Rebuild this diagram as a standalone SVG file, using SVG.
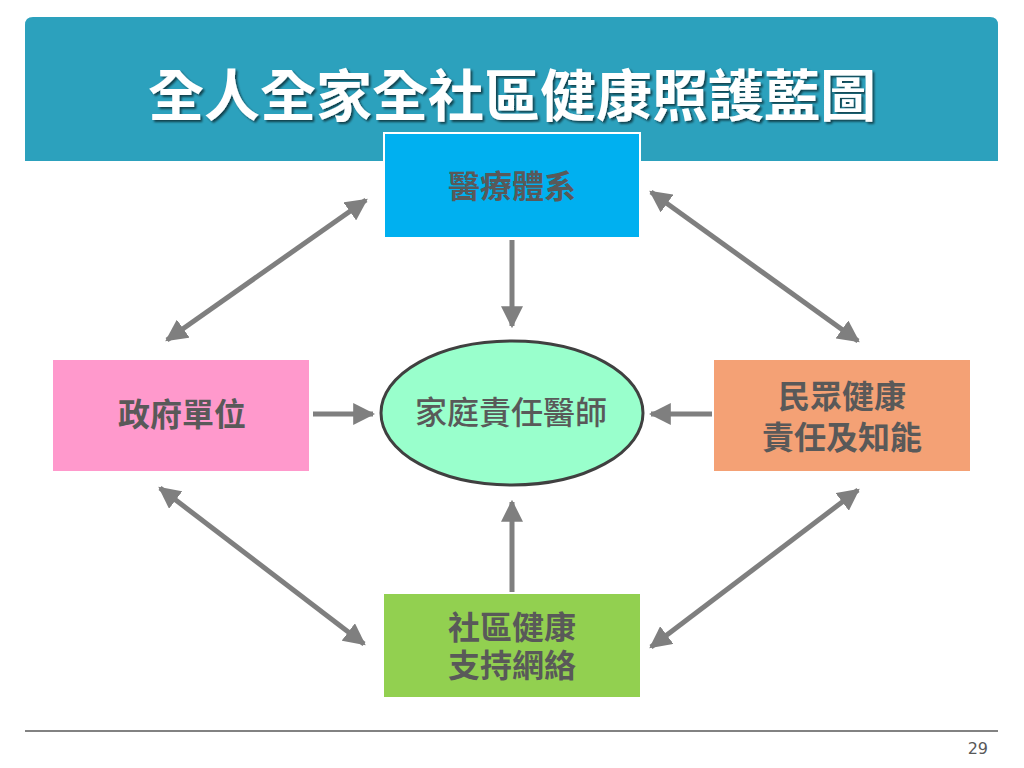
<svg xmlns="http://www.w3.org/2000/svg" width="1024" height="768" viewBox="0 0 1024 768">
<defs>
<marker id="ah" viewBox="0 0 10 10" refX="9" refY="5" markerWidth="4.4" markerHeight="4.4" orient="auto-start-reverse" markerUnits="strokeWidth">
<path d="M0,0 L10,5 L0,10 z" fill="#7f7f7f"/>
</marker>
<filter id="sh" x="-5%" y="-20%" width="110%" height="140%">
<feDropShadow dx="2" dy="2" stdDeviation="1" flood-color="#000" flood-opacity="0.6"/>
</filter>
</defs>
<style>
.lbl{font-family:"Noto Sans CJK TC","Noto Sans CJK SC",sans-serif;font-size:32px;font-weight:bold;fill:#595959;text-anchor:middle}
.con{stroke:#7f7f7f;stroke-width:5;fill:none;marker-end:url(#ah)}
.dbl{marker-start:url(#ah)}
</style>
<rect width="1024" height="768" fill="#ffffff"/>
<g id="title">
<path d="M33,17 H990 Q998,17 998,25 V161 H25 V25 Q25,17 33,17 Z" fill="#2ca1bd"/>
<text x="512" y="116" font-family="Noto Sans CJK TC,Noto Sans CJK SC,sans-serif" font-size="56" font-weight="bold" fill="#ffffff" text-anchor="middle" filter="url(#sh)">全人全家全社區健康照護藍圖</text>
</g>
<g id="connectors">
<line class="con" x1="512" y1="240" x2="512" y2="326"/>
<line class="con" x1="313" y1="414" x2="373" y2="414"/>
<line class="con" x1="712" y1="414" x2="651" y2="414"/>
<line class="con" x1="512" y1="592" x2="512" y2="502"/>
<line class="con dbl" x1="366" y1="200" x2="167" y2="340"/>
<line class="con dbl" x1="651" y1="192" x2="858" y2="341"/>
<line class="con dbl" x1="160" y1="488" x2="364" y2="644"/>
<line class="con dbl" x1="858" y1="490" x2="651" y2="647"/>
</g>
<g id="medical">
<rect x="384" y="133" width="256" height="105" fill="#00b0f0" stroke="#ffffff" stroke-width="2"/>
<text class="lbl" x="512" y="198">醫療體系</text>
</g>
<g id="gov">
<rect x="53" y="360" width="256" height="111" fill="#ff99cc"/>
<text class="lbl" x="182" y="426">政府單位</text>
</g>
<g id="public">
<rect x="714" y="360" width="256" height="111" fill="#f4a175"/>
<text class="lbl" x="842" y="408">民眾健康</text>
<text class="lbl" x="842" y="449">責任及知能</text>
</g>
<g id="doctor">
<ellipse cx="512" cy="413" rx="131" ry="72" fill="#99ffcc" stroke="#404040" stroke-width="3"/>
<text x="511" y="424" font-family="Noto Sans CJK TC,Noto Sans CJK SC,sans-serif" font-size="32" font-weight="500" fill="#595959" text-anchor="middle">家庭責任醫師</text>
</g>
<g id="community">
<rect x="384" y="594" width="256" height="103" fill="#92d050"/>
<text class="lbl" x="512" y="639">社區健康</text>
<text class="lbl" x="512" y="677">支持網絡</text>
</g>
<line x1="25" y1="731" x2="998" y2="731" stroke="#595959" stroke-width="1.5"/>
<text x="988" y="754" font-family="DejaVu Sans,sans-serif" font-size="16" fill="#595959" text-anchor="end">29</text>
</svg>
